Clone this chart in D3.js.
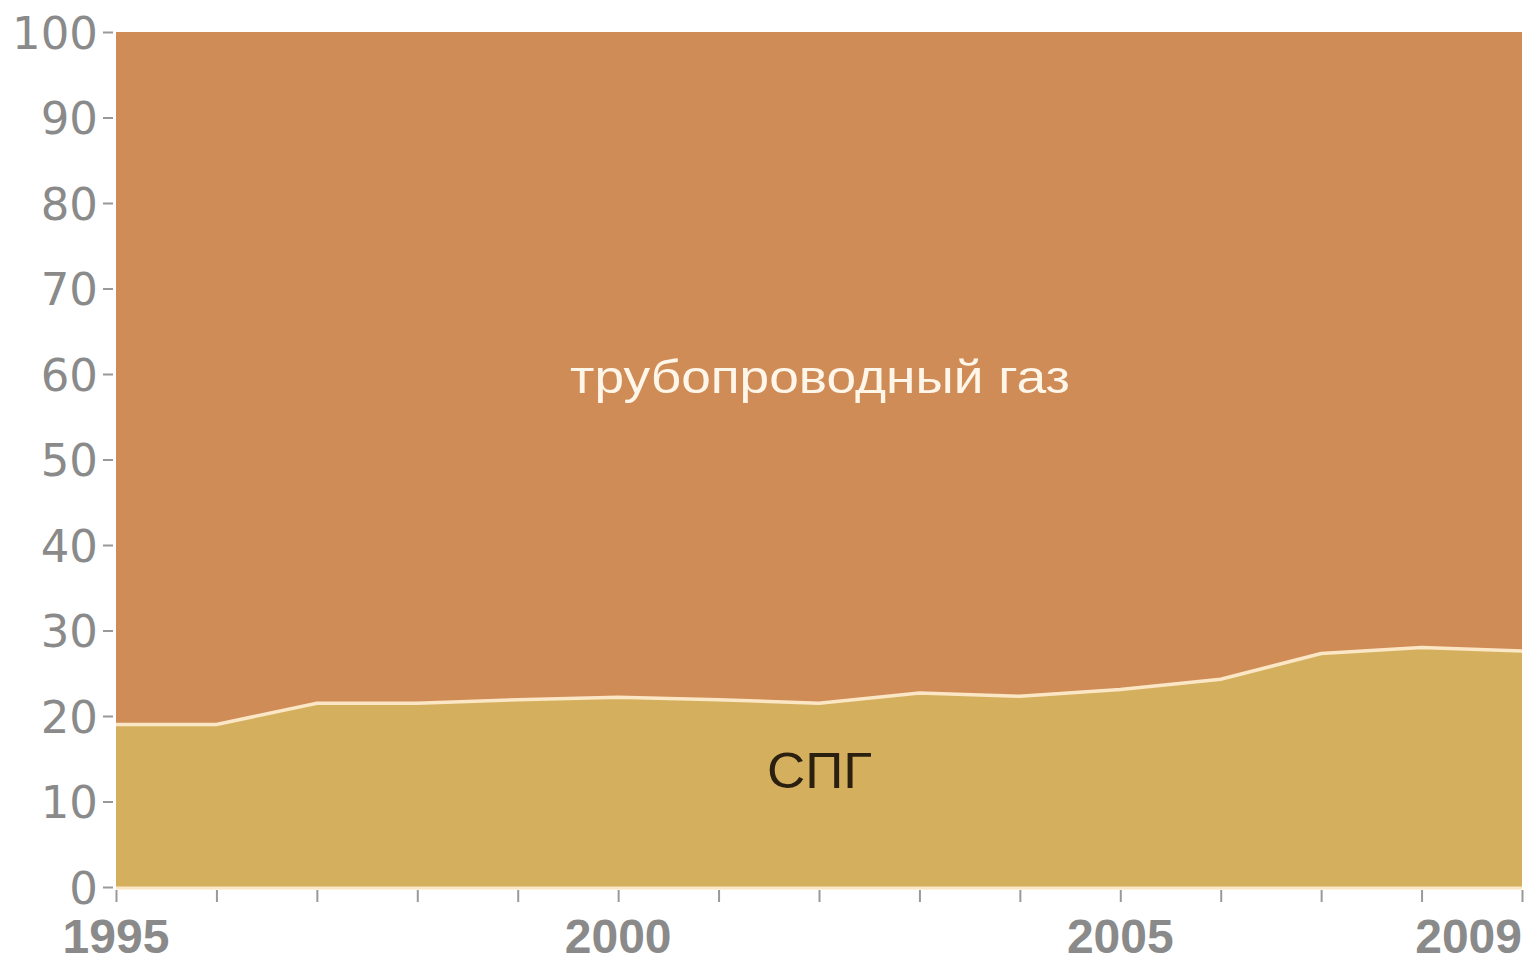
<!DOCTYPE html>
<html><head><meta charset="utf-8">
<script src="https://cdn.jsdelivr.net/npm/d3@7"></script>
<style>body{margin:0;background:#fff}svg{display:block}</style>
</head><body>
<svg id="c" width="1528" height="963"></svg>
<script>
const years = [1995,1996,1997,1998,1999,2000,2001,2002,2003,2004,2005,2006,2007,2008,2009];
const lngShare = [19.0,19.0,21.5,21.5,21.9,22.2,21.9,21.5,22.7,22.3,23.1,24.3,27.3,28.0,27.6];
const pipeShare = lngShare.map(v => 100 - v);
const yTicks = [0,10,20,30,40,50,60,70,80,90,100];
const xLabelYears = [1995,2000,2005,2009];
const seriesNames = ["СПГ","трубопроводный газ"];

const svg = d3.select("#c");
const L = 116, R = 1522, T = 32, B = 887;
const x = d3.scaleLinear().domain([1995,2009]).range([L,R]);
const y = d3.scaleLinear().domain([0,100]).range([B,T]);

const rows = years.map((yr,i)=>({yr, lng: lngShare[i], pipe: pipeShare[i]}));
const stack = d3.stack().keys(["lng","pipe"])(rows);
const area = d3.area().x(d=>x(d.data.yr)).y0(d=>y(d[0])).y1(d=>y(d[1]));
const colors = ["#D4B05E","#D08C56"];
svg.selectAll("path.a").data(stack).join("path").attr("class","a")
  .attr("d",area).attr("fill",(d,i)=>colors[i]);

// boundary line
svg.append("path").datum(rows)
  .attr("d", d3.line().x(d=>x(d.yr)).y(d=>y(d.lng)))
  .attr("fill","none").attr("stroke","#FBE6C6").attr("stroke-width",3.5);
// bottom line
svg.append("line").attr("x1",L).attr("x2",R).attr("y1",B+1).attr("y2",B+1)
  .attr("stroke","#FBE6C6").attr("stroke-width",3);

// y axis
const ya = svg.append("g").attr("transform",`translate(${L},0)`)
  .call(d3.axisLeft(y).tickValues(yTicks).tickSize(10).tickPadding(6));
ya.select(".domain").remove();
ya.selectAll("line").attr("stroke","#999").attr("stroke-width",2).attr("transform","translate(-3,0)");
ya.selectAll("text").attr("fill","#8a8a8a").attr("font-size",45)
  .attr("font-family","DejaVu Sans, sans-serif").attr("dx",-2).attr("dy","0.36em");

// x axis
const xa = svg.append("g").attr("transform",`translate(0,${B})`)
  .call(d3.axisBottom(x).tickValues(years).tickSize(12).tickFormat(""));
xa.select(".domain").remove();
xa.selectAll("line").attr("stroke","#999").attr("stroke-width",2).attr("transform","translate(0,3)");

svg.selectAll("text.xl").data(xLabelYears).join("text").attr("class","xl")
  .attr("x",d=>x(d)).attr("y",953)
  .attr("text-anchor",d=>d===2009?"end":"middle")
  .attr("fill","#8a8a8a").attr("font-size",48).attr("font-weight","bold")
  .attr("font-family","Liberation Sans, Arial, sans-serif")
  .text(d=>d);

// labels
svg.append("text").attr("x",570).attr("y",393)
  .attr("textLength",500).attr("lengthAdjust","spacingAndGlyphs")
  .attr("fill","#FFF6EA").attr("font-size",46)
  .attr("font-family","Liberation Sans, Arial, sans-serif").text(seriesNames[1]);
svg.append("text").attr("x",767).attr("y",788)
  .attr("textLength",105).attr("lengthAdjust","spacingAndGlyphs")
  .attr("fill","#2b2010").attr("font-size",50)
  .attr("font-family","Liberation Sans, Arial, sans-serif").text(seriesNames[0]);
</script>
</body></html>
